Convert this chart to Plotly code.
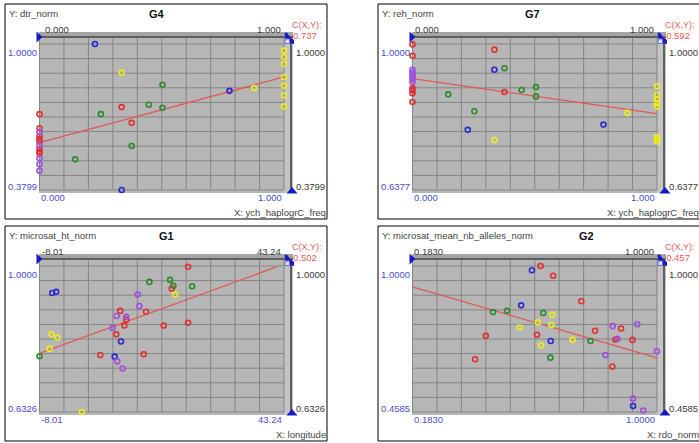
import plotly.graph_objects as go

W, H = 699, 443
FONT = "Liberation Sans, Arial, sans-serif"

# ---------------- data ----------------
GROUP_COLORS = {"red": "#e03232", "green": "#2e8b2e", "blue": "#2a2ad2",
                "yellow": "#ecec1c", "purple": "#a050dc"}

# G4 : X = ych_haplogrC_freq, Y = dtr_norm
G4_x = [0.227, 0.336, 0.503, 0.777, 0.878, 0.336, 0.447, 0.503, 0.251, 0.377, 0.377, 0.146, 0.336,
        1.0, 1.0, 1.0, 1.0, 1.0, 1.0, 1.0,
        0.0, 0.0, 0.0, 0.0, 0.0, 0.0, 0.0, 0.0,
        0.0, 0.0, 0.0, 0.0, 0.0]
G4_y = [1.000, 0.879, 0.827, 0.801, 0.813, 0.732, 0.742, 0.729, 0.702, 0.665, 0.567, 0.510, 0.380,
        0.972, 0.945, 0.915, 0.860, 0.823, 0.782, 0.735,
        0.702, 0.642, 0.607, 0.596, 0.586, 0.553, 0.543, 0.536,
        0.625, 0.569, 0.515, 0.489, 0.462]
G4_g = ["blue", "yellow", "green", "blue", "yellow", "red", "green", "green", "green", "red", "green", "green", "blue",
        "yellow", "yellow", "yellow", "yellow", "yellow", "yellow", "yellow",
        "red", "red", "red", "red", "red", "red", "red", "red",
        "purple", "purple", "purple", "purple", "purple"]
G4_fit_x = [0.0, 1.0]
G4_fit_y = [0.581, 0.860]
G4_corr = "0.737"

# G7 : X = ych_haplogrC_freq, Y = reh_norm
G7_x = [0.335, 0.335, 0.376, 0.376, 0.446, 0.505, 0.505, 0.146, 0.253, 0.226, 0.335, 0.781, 0.879,
        1.0, 1.0, 1.0, 1.0, 1.0, 1.0, 1.0, 1.0,
        0.0, 0.0, 0.0, 0.0, 0.0, 0.0,
        0.0, 0.0, 0.0, 0.0, 0.0, 0.0]
G7_y = [0.986, 0.936, 0.940, 0.881, 0.886, 0.893, 0.870, 0.875, 0.833, 0.787, 0.762, 0.800, 0.829,
        0.895, 0.874, 0.863, 0.853, 0.845, 0.769, 0.764, 0.758,
        0.999, 0.971, 0.890, 0.885, 0.878, 0.856,
        0.936, 0.930, 0.924, 0.918, 0.911, 0.905]
G7_g = ["red", "blue", "green", "red", "green", "green", "green", "green", "green", "blue", "yellow", "blue", "yellow",
        "yellow", "yellow", "yellow", "yellow", "yellow", "yellow", "yellow", "yellow",
        "red", "red", "red", "red", "red", "red",
        "purple", "purple", "purple", "purple", "purple", "purple"]
G7_fit_x = [0.0, 1.0]
G7_fit_y = [0.914, 0.827]
G7_corr = "-0.592"

# G1 : X = longitude, Y = microsat_ht_norm
G1_x = [23.14, 15.02, 19.36, 20.06, 19.71, 23.98, 20.41, -5.35, -4.51, 12.57, 12.92, 14.32, 8.93, 8.16,
        10.19, 10.19, 9.77, 7.32, 18.03, 23.14, 8.09, 9.07, -5.49, -4.23, -5.91, -8.01, 4.73, 13.83,
        7.74, 8.30, 9.42, 0.88]
G1_y = [0.998, 0.960, 0.965, 0.950, 0.943, 0.949, 0.928, 0.932, 0.935, 0.928, 0.899, 0.885, 0.887, 0.874,
        0.872, 0.865, 0.850, 0.844, 0.850, 0.857, 0.828, 0.810, 0.828, 0.820, 0.792, 0.773, 0.776, 0.778,
        0.772, 0.760, 0.742, 0.6326]
G1_g = ["red", "green", "green", "green", "red", "green", "yellow", "blue", "blue", "purple", "purple", "red", "red", "purple",
        "purple", "red", "red", "purple", "red", "red", "red", "blue", "yellow", "yellow", "yellow", "green", "red", "red",
        "blue", "purple", "purple", "yellow"]
G1_fit_x = [-8.01, 41.7]
G1_fit_y = [0.780, 0.998]
G1_corr = "0.502"

# G2 : X = rdo_norm, Y = microsat_mean_nb_alleles_norm
G2_x = [0.611, 0.582, 0.653, 0.747, 0.546, 0.452, 0.499, 0.620, 0.650, 0.602, 0.541, 0.647, 0.428, 0.599,
        0.645, 0.613, 0.718, 0.778, 0.793, 0.852, 0.880, 0.934, 0.868, 0.861, 0.918, 1.000, 0.828, 0.851,
        0.392, 0.644, 0.920, 0.920, 0.954]
G2_y = [1.000, 0.984, 0.964, 0.869, 0.854, 0.829, 0.834, 0.826, 0.819, 0.791, 0.772, 0.781, 0.741, 0.745,
        0.722, 0.705, 0.726, 0.722, 0.760, 0.777, 0.768, 0.784, 0.730, 0.727, 0.726, 0.684, 0.670, 0.627,
        0.654, 0.660, 0.508, 0.481, 0.464]
G2_g = ["red", "blue", "red", "red", "blue", "green", "green", "green", "yellow", "yellow", "yellow", "yellow", "red", "red",
        "blue", "yellow", "yellow", "green", "red", "purple", "red", "purple", "purple", "red", "red", "purple", "purple", "red",
        "red", "green", "purple", "blue", "purple"]
G2_fit_x = [0.183, 1.0]
G2_fit_y = [0.923, 0.659]
G2_corr = "-0.457"

# axis extents and their labels
G4_xext = [0.0, 1.0];      G4_xlab = ["0.000", "1.000"]
G4_yext = [0.3799, 1.0];   G4_ylab = ["0.3799", "1.0000"]
G7_xext = [0.0, 1.0];      G7_xlab = ["0.000", "1.000"]
G7_yext = [0.6377, 1.0];   G7_ylab = ["0.6377", "1.0000"]
G1_xext = [-8.01, 43.24];  G1_xlab = ["-8.01", "43.24"]
G1_yext = [0.6326, 1.0];   G1_ylab = ["0.6326", "1.0000"]
G2_xext = [0.183, 1.0];    G2_xlab = ["0.1830", "1.0000"]
G2_yext = [0.4585, 1.0];   G2_ylab = ["0.4585", "1.0000"]

panels = [
    dict(title="G4", xname="X: ych_haplogrC_freq", yname="Y: dtr_norm", x=G4_x, y=G4_y, g=G4_g,
         fx=G4_fit_x, fy=G4_fit_y, corr=G4_corr, xext=G4_xext, yext=G4_yext, xlab=G4_xlab, ylab=G4_ylab),
    dict(title="G7", xname="X: ych_haplogrC_freq", yname="Y: reh_norm", x=G7_x, y=G7_y, g=G7_g,
         fx=G7_fit_x, fy=G7_fit_y, corr=G7_corr, xext=G7_xext, yext=G7_yext, xlab=G7_xlab, ylab=G7_ylab),
    dict(title="G1", xname="X: longitude", yname="Y: microsat_ht_norm", x=G1_x, y=G1_y, g=G1_g,
         fx=G1_fit_x, fy=G1_fit_y, corr=G1_corr, xext=G1_xext, yext=G1_yext, xlab=G1_xlab, ylab=G1_ylab),
    dict(title="G2", xname="X: rdo_norm", yname="Y: microsat_mean_nb_alleles_norm", x=G2_x, y=G2_y, g=G2_g,
         fx=G2_fit_x, fy=G2_fit_y, corr=G2_corr, xext=G2_xext, yext=G2_yext, xlab=G2_xlab, ylab=G2_ylab),
]

# ---------------- layout (pixel geometry) ----------------
OFFS = [(0, 0), (373, 0), (0, 222), (373, 222)]
TITLE_X = [157, 159, 166, 213]
TOPMIN_X = [44, 41, 41, 40]
PL, PR, PT, PB = 39, 293, 32, 193      # gray plot block
DX0, DX1, DY0, DY1 = 39.5, 284, 190, 44  # data extent pixels


def px(v):
    return v / W


def py(v):
    return 1 - v / H


fig = go.Figure()
shapes, annos = [], []
layout_axes = {}

BLUE_TXT = "#4b4bd2"
DARK_TXT = "#3a3a3a"
HANDLE = "#1a1ac4"
GRID = "#858585"

for i, p in enumerate(panels):
    ox, oy = OFFS[i]
    sfx = "" if i == 0 else str(i + 1)
    xa, ya = "x" + sfx, "y" + sfx
    xmin, xmax = p["xext"]
    ymin, ymax = p["yext"]
    sx = (DX1 - DX0) / (xmax - xmin)
    sy = (DY0 - DY1) / (ymax - ymin)
    layout_axes["xaxis" + sfx] = dict(domain=[px(PL + ox), px(PR + ox)],
                                      range=[xmin - (DX0 - PL) / sx, xmax + (PR - DX1) / sx],
                                      visible=False, anchor=ya, fixedrange=True)
    layout_axes["yaxis" + sfx] = dict(domain=[py(PB + oy), py(PT + oy)],
                                      range=[ymin - (PB - DY0) / sy, ymax + (DY1 - PT) / sy],
                                      visible=False, anchor=xa, fixedrange=True)

    # panel frame
    shapes.append(dict(type="rect", xref="paper", yref="paper", layer="below",
                       x0=px(5 + ox), x1=px(327 + ox), y0=py(4 + oy), y1=py(219 + oy),
                       line=dict(color="#000000", width=1), fillcolor="rgba(0,0,0,0)"))
    # gray block
    shapes.append(dict(type="rect", xref="paper", yref="paper", layer="below",
                       x0=px(PL + ox), x1=px(PR + ox), y0=py(PB + oy), y1=py(PT + oy),
                       line=dict(width=0), fillcolor="#b6b6b6"))
    # top bar
    shapes.append(dict(type="rect", xref="paper", yref="paper", layer="below",
                       x0=px(PL + ox), x1=px(PR + ox), y0=py(37 + oy), y1=py(PT + oy),
                       line=dict(width=0), fillcolor="#a4a4a4"))
    # right strip
    shapes.append(dict(type="rect", xref="paper", yref="paper", layer="below",
                       x0=px(DX1 + ox), x1=px(PR + ox), y0=py(PB + oy), y1=py(37 + oy),
                       line=dict(width=0), fillcolor="#c4c4c4"))
    # grid
    for k in range(11):
        gx = xmin + k * (xmax - xmin) / 10
        shapes.append(dict(type="line", xref=xa, yref="paper", layer="below",
                           x0=gx, x1=gx, y0=py(DY0 + oy), y1=py(37 + oy),
                           line=dict(color=GRID, width=1)))
        gy = ymin + k * (ymax - ymin) / 10
        shapes.append(dict(type="line", xref="paper", yref=ya, layer="below",
                           x0=px(PL + ox), x1=px(DX1 + ox), y0=gy, y1=gy,
                           line=dict(color=GRID, width=1)))
    # dark slider rails
    shapes.append(dict(type="line", xref="paper", yref="paper", layer="below",
                       x0=px(PL + ox), x1=px(PR + ox), y0=py(37 + oy), y1=py(37 + oy),
                       line=dict(color="#5e5e5e", width=2)))
    shapes.append(dict(type="line", xref="paper", yref="paper", layer="below",
                       x0=px(291 + ox), x1=px(291 + ox), y0=py(37 + oy), y1=py(PB + oy),
                       line=dict(color="#5e5e5e", width=2)))

    # slider handles
    def path(pts):
        return "M " + " L ".join(f"{px(a + ox)},{py(b + oy)}" for a, b in pts) + " Z"

    shapes.append(dict(type="path", xref="paper", yref="paper", layer="above",
                       path=path([(36.5, 31.5), (36.5, 42.5), (42.5, 37)]),
                       fillcolor=HANDLE, line=dict(width=0)))
    shapes.append(dict(type="path", xref="paper", yref="paper", layer="above",
                       path=path([(287, 32.5), (290, 37), (294, 40), (294, 44), (289, 43), (285.5, 39), (284.5, 33)]),
                       fillcolor=HANDLE, line=dict(width=0)))
    shapes.append(dict(type="rect", xref="paper", yref="paper", layer="above",
                       x0=px(285 + ox), x1=px(289.5 + ox), y0=py(43.5 + oy), y1=py(39 + oy),
                       fillcolor="#dfe4f4", line=dict(color="#6a6ad8", width=1)))
    shapes.append(dict(type="path", xref="paper", yref="paper", layer="above",
                       path=path([(286.5, 193.5), (297.5, 193.5), (292, 187)]),
                       fillcolor=HANDLE, line=dict(width=0)))

    # traces
    fig.add_trace(go.Scatter(x=p["fx"], y=p["fy"], mode="lines", xaxis=xa, yaxis=ya,
                             line=dict(color="#e05a5a", width=1.3), showlegend=False, hoverinfo="skip"))
    for grp, col in GROUP_COLORS.items():
        gx = [a for a, g in zip(p["x"], p["g"]) if g == grp]
        gy = [b for b, g in zip(p["y"], p["g"]) if g == grp]
        if not gx:
            continue
        fig.add_trace(go.Scatter(x=gx, y=gy, mode="markers", xaxis=xa, yaxis=ya, cliponaxis=False,
                                 marker=dict(symbol="circle-open", size=5, color=col, line=dict(width=1.6, color=col)),
                                 showlegend=False, name=grp))

    # texts
    def ann(text, x, y, xanchor="left", color=DARK_TXT, size=9.5, bold=False):
        annos.append(dict(text=("<b>%s</b>" % text) if bold else text, xref="paper", yref="paper",
                          x=px(x + ox), y=py(y + oy), xanchor=xanchor, yanchor="middle", showarrow=False,
                          font=dict(family=FONT, size=size, color=color), borderpad=0))

    ann(p["yname"], 7.5, 14, color="#444444")
    ann(p["title"], TITLE_X[i], 14, xanchor="center", color="#111111", size=11, bold=True)
    ann(p["xlab"][0], TOPMIN_X[i], 29)
    ann(p["xlab"][1], 282, 29, xanchor="right")
    ann("C(X,Y):", 291, 25, color="#e85a5a", size=9)
    ann(p["corr"], 292 if not p["corr"].startswith("-") else 289, 35, color="#e85a5a", size=9.5)
    ann(p["ylab"][1], 38, 52, xanchor="right", color=BLUE_TXT)
    ann(p["ylab"][0], 38, 186, xanchor="right", color=BLUE_TXT)
    ann(p["ylab"][1], 295, 52, color=DARK_TXT)
    ann(p["ylab"][0], 295, 186, color=DARK_TXT)
    ann(p["xlab"][0], 40, 197, color=BLUE_TXT)
    ann(p["xlab"][1], 283, 197, xanchor="right", color=BLUE_TXT)
    ann(p["xname"], 327, 212, xanchor="right", color="#444444")

fig.update_layout(width=W, height=H, margin=dict(l=0, r=0, t=0, b=0),
                  paper_bgcolor="#ffffff", plot_bgcolor="rgba(0,0,0,0)",
                  shapes=shapes, annotations=annos, showlegend=False, **layout_axes)

fig.write_html("out.html", config={"displayModeBar": False},
               post_script="document.body.style.margin='0';document.body.style.overflow='hidden';")
